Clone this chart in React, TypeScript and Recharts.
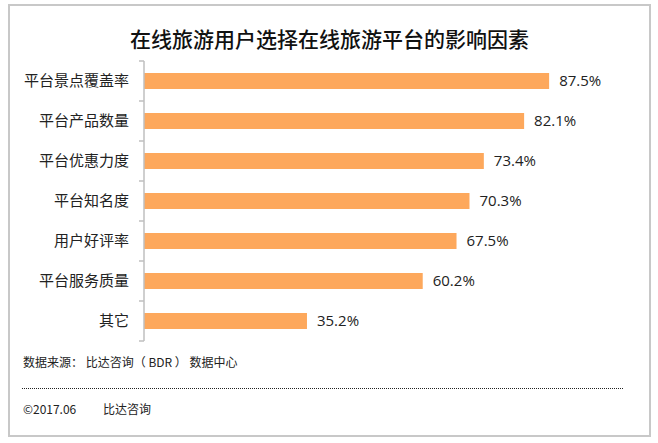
import React from "react";
import { BarChart, Bar, XAxis, YAxis, LabelList } from "recharts";

// 在线旅游用户选择平台的影响因素（比达咨询 2017.06）
const categories = ["平台景点覆盖率", "平台产品数量", "平台优惠力度", "平台知名度", "用户好评率", "平台服务质量", "其它"];
const values = [87.5, 82.1, 73.4, 70.3, 67.5, 60.2, 35.2];
const xDomain = [0, 100];

const data = categories.map((name, i) => ({ name, value: values[i] }));

const W = 658, H = 443;
const M = { top: 61, right: 51, bottom: 102, left: 0 };
const AXIS_W = 144;
const HALF_BAND = (H - M.top - M.bottom) / categories.length / 2;
const CJK = '"Noto Sans CJK SC", "Noto Sans", sans-serif';
const BAR = "#FDA85C";
const AXIS = "#bfbfbf";

function CatTick(props: any) {
  const { x, y, payload, index } = props;
  const ax = M.left + AXIS_W;
  return (
    <g>
      <text x={x} y={y} dy={5} textAnchor="end" fill="#222" fontSize={15} fontFamily={CJK}>{payload.value}</text>
      <line x1={ax - 5} x2={ax} y1={y - HALF_BAND} y2={y - HALF_BAND} stroke={AXIS} strokeWidth={1.5} />
      {index === categories.length - 1 && (
        <line x1={ax - 5} x2={ax} y1={y + HALF_BAND} y2={y + HALF_BAND} stroke={AXIS} strokeWidth={1.5} />
      )}
    </g>
  );
}

export default function App() {
  return (
    <div style={{ position: "absolute", left: 0, top: 0, width: W, height: H, background: "#fff", fontFamily: CJK }}>
      <div style={{ position: "absolute", left: 8, top: 4, width: 643, height: 433, boxSizing: "border-box", border: "2px solid #c8c8c8" }} />
      <div style={{ position: "absolute", left: 8, width: 643, top: 23, textAlign: "center", fontSize: 21, fontWeight: 500, color: "#111" }}>
        在线旅游用户选择在线旅游平台的影响因素
      </div>
      <div style={{ position: "absolute", left: 0, top: 0 }}>
        <BarChart width={W} height={H} data={data} layout="vertical" margin={M} barCategoryGap="30%">
          <XAxis type="number" domain={xDomain} hide />
          <YAxis type="category" dataKey="name" width={AXIS_W} tickLine={false} tickSize={5} tickMargin={10}
            axisLine={{ stroke: AXIS, strokeWidth: 1.5 }} tick={<CatTick />} interval={0} />
          <Bar dataKey="value" fill={BAR} isAnimationActive={false}>
            <LabelList dataKey="value" position="right" offset={10} fill="#222" fontSize={15}
              fontFamily='"Open Sans", sans-serif' formatter={(v: any) => `${Number(v).toFixed(1)}%`} />
          </Bar>
        </BarChart>
      </div>
      <div style={{ position: "absolute", left: 23, top: 353, fontSize: 12, color: "#222" }}>
        数据来源： 比达咨询（ BDR ） 数据中心
      </div>
      <div style={{ position: "absolute", left: 22, top: 388, width: 601, borderTop: "1px dotted #222" }} />
      <div style={{ position: "absolute", left: 23, top: 400, fontSize: 12, color: "#222" }}>
        ©2017.06
      </div>
      <div style={{ position: "absolute", left: 103, top: 400, fontSize: 12, color: "#222" }}>
        比达咨询
      </div>
    </div>
  );
}
